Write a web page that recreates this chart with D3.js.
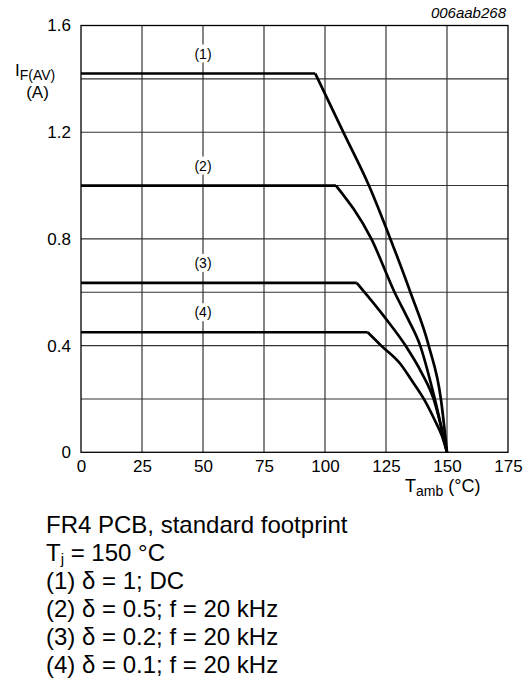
<!DOCTYPE html>
<html>
<head>
<meta charset="utf-8">
<script src="https://cdn.jsdelivr.net/npm/d3@7"></script>
<style>
  body { margin: 0; background: #fff; }
  text { font-family: "Liberation Sans", Arial, sans-serif; fill: #000; }
</style>
</head>
<body>
<div id="viz"></div>
<script>
"use strict";

// curve data: T_amb (°C) and I_F(AV) (A)
const seriesNames = ["(1)", "(2)", "(3)", "(4)"];
const tAmb1 = [0, 96, 107.5, 118, 126.8, 135, 142.5, 147.5, 150];
const iF1   = [1.42, 1.42, 1.2, 1.0, 0.8, 0.6, 0.4, 0.2, 0];
const tAmb2 = [0, 104.5, 119, 128.5, 134, 139, 145, 150];
const iF2   = [1.0, 1.0, 0.8, 0.6, 0.5, 0.4, 0.2, 0];
const tAmb3 = [0, 113, 125, 133, 139.5, 144.5, 150];
const iF3   = [0.635, 0.635, 0.5, 0.4, 0.3, 0.2, 0];
const tAmb4 = [0, 117.5, 123, 131, 135.5, 140.5, 145, 148, 150];
const iF4   = [0.45, 0.45, 0.4, 0.33, 0.27, 0.2, 0.12, 0.06, 0];

const xTicks = [0, 25, 50, 75, 100, 125, 150, 175];
const yTicks = [0, 0.4, 0.8, 1.2, 1.6];
const yGrid  = [0.2, 0.4, 0.6, 0.8, 1.0, 1.2, 1.4];
const labelT = 50;

const notes = [
    "FR4 PCB, standard footprint",
    "T_j = 150 °C",
    "(1) δ = 1; DC",
    "(2) δ = 0.5; f = 20 kHz",
    "(3) δ = 0.2; f = 20 kHz",
    "(4) δ = 0.1; f = 20 kHz"
];

function initChart() {
    let width = 532;
    let height = 684;
    let left = 81, right = 508, top = 25.5, bottom = 452.3;

    let xScale = d3.scaleLinear().domain([0, 175]).range([left, right]);
    let yScale = d3.scaleLinear().domain([0, 1.6]).range([bottom, top]);

    let svg = d3.select('#viz')
                .append('svg')
                .attr('width', width)
                .attr('height', height);

    // grid
    svg.append('g')
       .selectAll('line')
       .data(xTicks.slice(1, -1))
       .enter()
       .append('line')
       .attr('x1', d => xScale(d)).attr('x2', d => xScale(d))
       .attr('y1', top).attr('y2', bottom)
       .attr('stroke', '#222').attr('stroke-width', 1.1);

    svg.append('g')
       .selectAll('line')
       .data(yGrid)
       .enter()
       .append('line')
       .attr('y1', d => yScale(d)).attr('y2', d => yScale(d))
       .attr('x1', left).attr('x2', right)
       .attr('stroke', '#333').attr('stroke-width', 1.1);

    svg.append('rect')
       .attr('x', left).attr('y', top)
       .attr('width', right - left).attr('height', bottom - top)
       .attr('fill', 'none').attr('stroke', '#000').attr('stroke-width', 1.3);

    // axes (labels only, no tick marks)
    let xAxis = svg.append('g')
       .attr('transform', `translate(0,${bottom})`)
       .call(d3.axisBottom(xScale).tickValues(xTicks).tickSize(0).tickPadding(8));
    xAxis.select('.domain').remove();
    xAxis.selectAll('text').attr('font-size', 17).attr('font-family', '"Liberation Sans", Arial, sans-serif');

    let yAxis = svg.append('g')
       .attr('transform', `translate(${left},0)`)
       .call(d3.axisLeft(yScale).tickValues(yTicks).tickSize(0).tickPadding(10)
             .tickFormat(d => d === 0 ? "0" : d3.format(".1f")(d)));
    yAxis.select('.domain').remove();
    yAxis.selectAll('text').attr('font-size', 17).attr('font-family', '"Liberation Sans", Arial, sans-serif');

    // curves: flat part straight, derating part smooth
    let series = [
        { t: tAmb1, i: iF1 },
        { t: tAmb2, i: iF2 },
        { t: tAmb3, i: iF3 },
        { t: tAmb4, i: iF4 }
    ];
    let flat = d3.line()
                 .x(d => xScale(d[0]))
                 .y(d => yScale(d[1]));
    let fall = d3.line()
                 .x(d => xScale(d[0]))
                 .y(d => yScale(d[1]))
                 .curve(d3.curveMonotoneX);

    let curves = svg.selectAll('g.curve')
       .data(series)
       .enter()
       .append('g')
       .attr('class', 'curve')
       .attr('fill', 'none')
       .attr('stroke', '#000')
       .attr('stroke-width', 2.7)
       .attr('stroke-linejoin', 'round');
    curves.append('path')
       .attr('d', s => flat(s.t.slice(0, 2).map((t, k) => [t, s.i[k]])));
    curves.append('path')
       .attr('d', s => fall(s.t.slice(1).map((t, k) => [t, s.i[k + 1]])));

    // series labels with white backing
    let lab = svg.selectAll('g.lab')
       .data(series)
       .enter()
       .append('g')
       .attr('class', 'lab')
       .attr('transform', s => `translate(${xScale(labelT)},${yScale(s.i[0]) - 15})`);
    lab.append('rect')
       .attr('x', -11).attr('y', -14).attr('width', 22).attr('height', 18)
       .attr('fill', '#fff');
    lab.append('text')
       .attr('text-anchor', 'middle')
       .attr('font-size', 14)
       .text((s, k) => seriesNames[k]);

    // axis titles
    let yt = svg.append('text').attr('x', 15).attr('y', 76).attr('font-size', 17);
    yt.append('tspan').text('I');
    yt.append('tspan').attr('font-size', 14).attr('dy', 4).text('F(AV)');
    svg.append('text').attr('x', 37.5).attr('y', 98).attr('text-anchor', 'middle')
       .attr('font-size', 17).text('(A)');

    let xt = svg.append('text').attr('x', 405).attr('y', 492).attr('font-size', 18);
    xt.append('tspan').text('T');
    xt.append('tspan').attr('font-size', 14).attr('dy', 4).text('amb');
    xt.append('tspan').attr('dy', -4).text(' (°C)');

    svg.append('text').attr('x', 506).attr('y', 18).attr('text-anchor', 'end')
       .attr('font-size', 15).attr('font-style', 'italic').text('006aab268');

    // notes
    svg.selectAll('text.note')
       .data(notes)
       .enter()
       .append('text')
       .attr('class', 'note')
       .attr('x', 46)
       .attr('y', (d, k) => 533 + k * 28)
       .attr('font-size', 24)
       .each(function (d) {
           let el = d3.select(this);
           if (d.startsWith('T_j')) {
               el.append('tspan').text('T');
               el.append('tspan').attr('font-size', 15).attr('dy', 3).text('j');
               el.append('tspan').attr('dy', -3).text(d.slice(3));
           } else {
               el.text(d);
           }
       });
}

initChart();
</script>
</body>
</html>
